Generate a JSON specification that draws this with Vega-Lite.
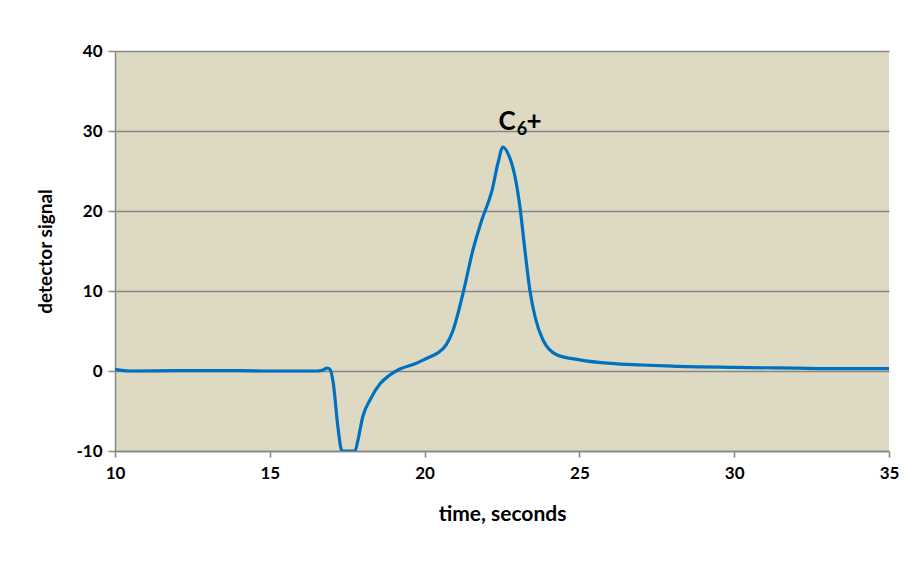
{
  "$schema": "https://vega.github.io/schema/vega-lite/v6.json",
  "width": 774,
  "height": 400,
  "autosize": {"type": "none"},
  "padding": {"left": 115, "top": 51, "right": 16, "bottom": 118},
  "background": "white",
  "config": {
    "view": {"stroke": null, "fill": "#DDD9C3"},
    "font": "Lato",
    "axis": {
      "labelFont": "Lato", "labelFontWeight": "bold", "labelFontSize": 17, "labelColor": "#000000",
      "titleFont": "Lato", "titleFontWeight": "bold", "titleColor": "#000000",
      "domainColor": "#868686", "domainWidth": 1.5, "tickColor": "#868686", "tickWidth": 1.5,
      "gridColor": "#868686", "gridWidth": 1.5, "labelFlush": false,
      "labelExpr": "replace(datum.label, '−', '-')"
    }
  },
  "datasets": {
    "signal": [
      {"t": 10.0, "s": 0.2}, {"t": 10.5, "s": 0.0}, {"t": 12, "s": 0.05}, {"t": 14, "s": 0.05},
      {"t": 15, "s": 0.0}, {"t": 16.5, "s": 0.0}, {"t": 16.7, "s": 0.1}, {"t": 16.85, "s": 0.35},
      {"t": 16.95, "s": 0.2}, {"t": 17.05, "s": -1.5}, {"t": 17.2, "s": -7.0}, {"t": 17.33, "s": -10.0},
      {"t": 17.75, "s": -10.0}, {"t": 17.85, "s": -8.6}, {"t": 18.0, "s": -5.75}, {"t": 18.24, "s": -3.6},
      {"t": 18.56, "s": -1.6}, {"t": 18.88, "s": -0.5}, {"t": 19.2, "s": 0.25}, {"t": 19.69, "s": 0.9},
      {"t": 20.08, "s": 1.6}, {"t": 20.4, "s": 2.2}, {"t": 20.7, "s": 3.3}, {"t": 20.92, "s": 5.1},
      {"t": 21.24, "s": 9.7}, {"t": 21.56, "s": 15.1}, {"t": 21.85, "s": 18.9}, {"t": 22.18, "s": 22.6},
      {"t": 22.37, "s": 26.0}, {"t": 22.53, "s": 28.0}, {"t": 22.69, "s": 27.2}, {"t": 22.92, "s": 24.3},
      {"t": 23.08, "s": 20.5}, {"t": 23.24, "s": 15.1}, {"t": 23.4, "s": 10.1}, {"t": 23.57, "s": 6.75},
      {"t": 23.82, "s": 3.9}, {"t": 24.28, "s": 2.0}, {"t": 25.0, "s": 1.4}, {"t": 26.0, "s": 0.95},
      {"t": 27.0, "s": 0.75}, {"t": 28.0, "s": 0.6}, {"t": 30.0, "s": 0.45}, {"t": 32.0, "s": 0.35},
      {"t": 33.0, "s": 0.3}, {"t": 35.0, "s": 0.3}
    ],
    "labels": [
      {"t": 23.05, "s": 31.1}
    ]
  },
  "layer": [
    {
      "data": {"name": "signal"},
      "mark": {"type": "line", "color": "#0070C0", "strokeWidth": 3.2, "interpolate": "monotone", "clip": true},
      "encoding": {
        "x": {
          "field": "t", "type": "quantitative", "title": "time, seconds",
          "scale": {"domain": [10, 35], "nice": false, "zero": false},
          "axis": {"values": [10, 15, 20, 25, 30, 35], "grid": false, "tickSize": 6, "labelPadding": 8,
                   "titleFontSize": 21, "titlePadding": 22}
        },
        "y": {
          "field": "s", "type": "quantitative", "title": "detector signal",
          "scale": {"domain": [-10, 40], "nice": false, "zero": false},
          "axis": {"values": [-10, 0, 10, 20, 30, 40], "grid": true, "tickSize": 7, "labelPadding": 6,
                   "titleFontSize": 19, "titlePadding": 20}
        }
      }
    },
    {
      "data": {"name": "labels"},
      "mark": {"type": "text", "text": "C", "font": "Lato", "fontWeight": "bold", "fontSize": 26, "color": "#000000", "baseline": "middle", "align": "center", "dx": -12},
      "encoding": {
        "x": {"field": "t", "type": "quantitative"},
        "y": {"field": "s", "type": "quantitative"}
      }
    },
    {
      "data": {"name": "labels"},
      "mark": {"type": "text", "text": "6", "font": "Lato", "fontWeight": "bold", "fontSize": 18, "color": "#000000", "baseline": "middle", "align": "center", "dx": 3, "dy": 8},
      "encoding": {
        "x": {"field": "t", "type": "quantitative"},
        "y": {"field": "s", "type": "quantitative"}
      }
    },
    {
      "data": {"name": "labels"},
      "mark": {"type": "text", "text": "+", "font": "Lato", "fontWeight": "bold", "fontSize": 26, "color": "#000000", "baseline": "middle", "align": "center", "dx": 15},
      "encoding": {
        "x": {"field": "t", "type": "quantitative"},
        "y": {"field": "s", "type": "quantitative"}
      }
    }
  ]
}
